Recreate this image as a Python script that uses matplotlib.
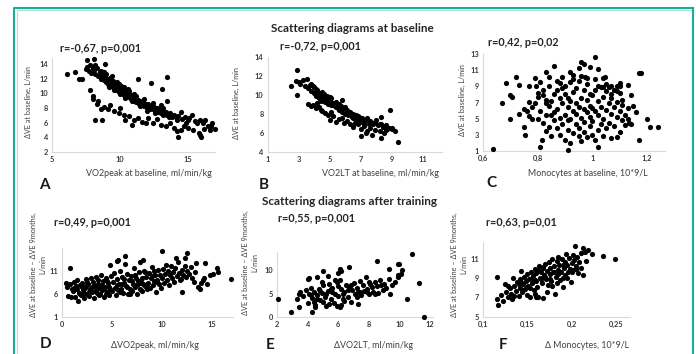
import matplotlib
matplotlib.use("Agg")
import matplotlib.pyplot as plt
from matplotlib.lines import Line2D

plt.rcParams['font.family'] = ['Lato', 'DejaVu Sans']

W, H = 696, 354

# ---------------- data ----------------
headings = ["Scattering diagrams at baseline", "Scattering diagrams after training"]
panel_letters = ["A", "B", "C", "D", "E", "F"]
stats = ["r=-0,67, p=0,001", "r=-0,72, p=0,001", "r=0,42, p=0,02",
         "r=0,49, p=0,001", "r=0,55, p=0,001", "r=0,63, p=0,01"]
xlabels = ["VO2peak at baseline, ml/min/kg", "VO2LT at baseline, ml/min/kg",
           "Monocytes at baseline, 10*9/L", "ΔVO2peak, ml/min/kg",
           "ΔVO2LT, ml/min/kg", "Δ Monocytes, 10*9/L"]
ylabel_base = "ΔVE at baseline, L/min"
ylabel_train = "ΔVE at baseline – ΔVE 9months,\nL/min"

a_ticks_x = [5, 10, 15]; a_ticks_y = [2, 4, 6, 8, 10, 12, 14]
b_ticks_x = [1, 3, 5, 7, 9, 11]; b_ticks_y = [4, 6, 8, 10, 12, 14]
c_ticks_x = [0.6, 0.8, 1.0, 1.2]; c_ticks_y = [1, 3, 5, 7, 9, 11, 13]
c_ticklabels_x = ["0,6", "0,8", "1", "1,2"]
d_ticks_x = [0, 5, 10, 15]; d_ticks_y = [1, 6, 11]
e_ticks_x = [2, 4, 6, 8, 10, 12]; e_ticks_y = [0, 5, 10]
f_ticks_x = [0.1, 0.15, 0.2, 0.25]; f_ticks_y = [5, 7, 9, 11]
f_ticklabels_x = ["0,1", "0,15", "0,2", "0,25"]

# Panel A: VO2peak at baseline vs dVE
a_points = [
 (7.5,13.3),(7.6,13.6),(7.7,13.0),(7.8,13.8),(7.9,12.8),(8.0,13.4),(8.1,13.1),(8.2,12.6),(8.3,13.5),(8.4,12.3),
 (8.5,12.9),(8.6,12.0),(8.7,12.5),(8.8,11.8),(8.9,12.2),(9.0,11.5),(9.0,12.6),(9.1,11.2),(9.2,11.9),(9.3,11.0),
 (9.3,12.1),(9.4,11.5),(9.5,10.8),(9.5,11.7),(9.6,11.1),(9.7,10.5),(9.7,11.4),(9.8,10.9),(9.9,10.2),(9.9,11.2),
 (10.0,10.6),(10.0,9.9),(10.1,11.0),(10.2,10.1),(10.2,10.7),(10.3,9.7),(10.4,10.4),(10.5,9.5),(10.5,10.0),(10.6,9.8),
 (10.7,10.3),(10.8,9.2),(10.8,9.7),(10.9,9.4),(11.0,9.0),(11.0,9.9),(11.1,9.3),(11.2,8.8),(11.3,9.1),(11.4,8.6),
 (11.5,9.0),(11.6,8.4),(11.7,8.8),(11.8,8.2),(11.9,8.6),(12.0,8.0),(12.1,8.5),(12.2,7.9),(12.3,8.3),(12.4,7.8),
 (12.5,8.1),(12.6,7.6),(12.7,8.0),(12.8,7.5),(12.9,7.9),(13.0,7.3),(13.1,7.7),(13.2,8.0),(13.3,7.2),(13.4,7.5),
 (13.5,7.0),(13.7,7.3),(13.8,6.8),(14.0,7.1),(14.1,6.7),(14.3,6.9),(14.5,7.4),(14.6,6.5),(14.8,6.8),(15.0,6.3),
 (15.1,6.6),(15.3,7.1),(15.5,6.2),(15.7,6.0),(15.9,6.4),(16.1,5.9),(16.3,6.4),(16.5,5.6),(16.7,5.5),(16.8,5.9),
 (17.0,5.1),
 (8.6,13.0),(8.8,12.9),(9.0,12.0),(9.2,10.9),(9.4,12.4),(9.6,10.4),(9.8,11.6),(10.1,10.3),(10.3,10.9),(10.4,9.3),
 (10.6,10.6),(10.9,8.9),(11.2,9.6),(11.5,8.3),(11.8,9.2),(12.0,7.6),(12.4,8.7),(12.6,7.3),(13.0,8.4),(13.2,7.0),
 (13.6,6.7),(14.2,6.4),(14.9,6.0),
 (7.8,10.5),(8.0,9.6),(8.0,9.2),(8.3,8.6),(8.4,9.0),(8.6,7.9),(8.8,8.1),(9.1,7.8),(9.3,8.4),(9.6,7.6),
 (9.9,7.3),(10.0,8.0),(10.3,7.1),(10.4,6.4),(10.7,6.9),(10.9,5.7),(11.0,6.3),(11.3,6.6),(11.6,6.1),(11.9,5.9),
 (12.1,6.6),(12.4,6.0),(12.7,6.5),(13.0,5.7),(13.4,5.6),(13.7,6.0),(14.0,5.3),(14.2,4.8),(14.5,5.0),(14.7,5.6),
 (15.0,5.3),(15.4,5.0),(15.8,4.6),(16.2,5.2),(16.6,5.0),
 (6.1,12.6),(6.7,12.9),(7.0,12.0),(7.2,12.0),(7.6,14.5),(8.1,14.6),(8.2,6.3),(8.7,6.3),(11.3,12.0),(12.3,11.4),
 (13.5,12.2),(13.1,10.6),(13.5,8.9),(14.3,4.0),(15.9,4.3),(16.0,4.0),(8.9,14.0),(8.2,13.9),
]

# Panel B: VO2LT at baseline vs dVE
b_points = [
 (3.0,11.4),(3.1,11.2),(3.3,11.6),(3.4,11.0),(3.5,11.7),(3.6,10.7),(3.7,11.1),(3.8,10.4),(3.9,11.0),(4.0,10.2),
 (4.0,10.8),(4.1,9.9),(4.2,10.5),(4.3,9.7),(4.3,10.2),(4.4,10.0),(4.5,9.5),(4.5,10.3),(4.6,9.8),(4.7,9.3),
 (4.8,9.9),(4.9,9.1),(4.9,9.6),(5.0,9.4),(5.1,8.9),(5.1,9.7),(5.2,9.2),(5.3,8.8),(5.4,9.3),(5.5,8.6),
 (5.5,9.0),(5.6,8.4),(5.7,8.8),(5.8,8.2),(5.9,8.6),(6.0,8.0),(6.1,8.4),(6.2,7.9),(6.3,8.2),(6.4,7.7),
 (6.5,8.0),(6.6,7.5),(6.7,7.9),(6.8,7.4),(6.9,7.7),(7.0,7.3),(7.1,7.6),(7.2,7.1),(7.3,7.4),(7.5,7.0),
 (7.6,7.3),(7.8,6.9),(7.9,7.2),(8.1,6.8),(8.2,7.0),(8.4,6.6),(8.6,6.8),(8.8,6.5),(9.0,6.4),(9.2,6.2),
 (3.8,11.2),(4.1,10.6),(4.4,9.4),(4.6,10.1),(4.8,9.5),(5.0,9.8),(5.2,8.9),(5.4,8.7),(5.6,9.1),(5.8,8.5),
 (6.0,8.7),(6.2,8.1),(6.5,7.6),(6.8,7.8),(7.1,7.2),(7.4,7.6),(7.7,7.1),(8.0,7.4),(8.3,6.9),(8.6,6.3),
 (3.6,9.1),(3.8,8.8),(3.9,9.0),(4.1,8.6),(4.3,8.7),(4.5,8.3),(4.7,8.1),(4.9,7.9),(5.0,7.4),(5.2,7.8),
 (5.4,7.2),(5.6,7.5),(5.9,7.1),(6.1,7.3),(6.3,6.9),(6.5,6.6),(6.8,6.9),(7.0,6.4),(7.2,6.7),(7.4,6.2),
 (7.6,6.5),(7.9,6.3),(8.2,6.2),(8.5,6.0),(8.7,6.4),(4.4,8.4),(4.2,9.2),(5.1,8.2),(5.8,7.6),(6.6,7.1),
 (2.5,11.0),(2.9,12.6),(2.9,10.0),(2.8,11.5),(5.8,9.5),(8.3,7.7),(8.9,8.4),(9.4,5.1),(8.3,5.5),(7.0,5.7),
 (7.7,5.8),(9.0,6.5),(7.3,6.0),
]

# Panel C: Monocytes at baseline vs dVE
c_points = [
 (0.635,1.3),(0.67,6.9),(0.685,9.4),(0.70,7.9),(0.705,7.7),(0.70,5.0),(0.72,10.1),(0.73,9.2),(0.73,5.6),(0.75,6.2),
 (0.75,4.0),(0.755,3.0),(0.77,9.0),(0.77,7.1),(0.78,4.9),(0.79,10.0),(0.795,9.0),(0.80,7.7),(0.81,1.5),(0.815,2.3),
 (0.83,10.8),(0.83,7.3),(0.84,10.1),(0.85,5.4),(0.86,11.5),(0.87,8.5),(0.88,9.4),(0.89,10.2),(0.91,1.1),(0.92,10.8),
 (0.93,10.4),(0.96,12.0),(0.97,11.8),(0.975,10.2),(0.99,11.4),(1.01,12.6),(1.02,11.2),(1.04,10.0),(1.045,10.1),(1.02,1.5),
 (1.07,9.0),(1.09,9.0),(1.10,9.4),(1.13,9.2),(1.14,7.9),(1.17,10.6),(1.18,10.6),(1.16,5.8),(1.20,5.0),(1.21,4.0),
 (1.24,4.0),(1.17,2.4),(1.09,2.7),(1.13,5.0),
 (0.80,5.0),(0.81,6.0),(0.82,4.5),(0.82,7.9),(0.83,5.4),(0.83,3.5),(0.84,6.6),(0.84,4.0),(0.85,7.2),(0.85,2.8),
 (0.86,5.8),(0.86,4.8),(0.87,3.8),(0.87,6.2),(0.88,7.5),(0.88,5.1),(0.88,3.0),(0.89,4.3),(0.89,6.9),(0.90,5.5),
 (0.90,2.4),(0.90,8.0),(0.91,3.6),(0.91,6.4),(0.91,4.8),(0.92,7.2),(0.92,5.0),(0.92,2.0),(0.93,3.2),(0.93,6.0),
 (0.93,8.3),(0.94,4.4),(0.94,5.6),(0.94,7.0),(0.95,2.8),(0.95,6.5),(0.95,3.9),(0.96,5.1),(0.96,7.6),(0.96,2.2),
 (0.97,4.6),(0.97,6.2),(0.97,3.3),(0.98,5.8),(0.98,7.3),(0.98,2.7),(0.99,4.1),(0.99,6.6),(0.99,5.2),(1.00,3.0),
 (1.00,7.9),(1.00,4.7),(1.01,6.0),(1.01,2.3),(1.01,8.6),(1.02,5.5),(1.02,3.6),(1.02,7.2),(1.03,4.3),(1.03,8.9),
 (1.03,6.4),(1.04,2.9),(1.04,5.0),(1.04,7.7),(1.05,8.4),(1.05,6.1),(1.05,3.8),(1.06,4.5),(1.06,7.0),(1.06,8.9),
 (1.07,5.6),(1.07,2.6),(1.07,7.5),(1.08,6.4),(1.08,4.1),(1.08,8.6),(1.09,5.2),(1.09,7.1),(1.10,6.0),(1.10,3.4),
 (1.10,8.2),(1.11,4.8),(1.11,6.7),(1.12,5.5),(1.12,4.2),(1.13,6.3),(1.135,4.5),(1.14,4.3),(1.15,6.6),
 (0.76,6.0),(0.77,5.3),(0.78,6.5),(0.79,7.0),(0.80,8.2),(0.81,9.5),(0.82,8.5),(0.83,6.9),(0.84,9.0),(0.86,8.0),
 (0.87,9.7),(0.89,8.8),(0.90,9.0),(0.91,7.5),(0.92,9.5),(0.94,8.8),(0.95,9.6),(0.97,8.5),(0.98,9.3),(0.99,8.0),
 (1.00,6.3),(1.01,9.9),(1.02,9.0),(1.04,8.9),(1.05,9.3),(1.07,8.0),(1.09,8.4),(1.10,9.0),(1.11,7.3),
 (0.93,9.9),(0.95,11.3),(0.96,10.3),(0.98,10.0),
]

# Panel D: dVO2peak vs dVE difference
d_points = [
 (0.5,7.4),(0.6,5.5),(0.8,8.0),(0.9,5.3),(1.0,7.0),(1.1,6.5),(1.2,8.6),(1.3,5.2),(1.4,7.6),(1.5,9.0),
 (1.6,4.5),(1.7,6.2),(1.8,7.9),(1.9,5.6),(2.0,8.4),(2.1,6.8),(2.2,5.0),(2.3,7.3),(2.4,9.1),(2.5,6.0),
 (2.6,8.0),(2.7,5.4),(2.8,7.0),(2.9,9.4),(3.0,6.4),(3.1,8.5),(3.2,5.1),(3.3,7.7),(3.4,9.6),(3.5,6.1),
 (3.6,8.1),(3.7,5.6),(3.8,7.2),(3.9,10.0),(4.0,6.7),(4.1,8.8),(4.2,5.3),(4.3,7.5),(4.4,9.3),(4.5,6.3),
 (4.6,8.3),(4.7,5.8),(4.8,7.0),(4.9,9.8),(5.0,6.6),
 (1.5,6.9),(2.0,7.4),(2.5,8.6),(3.0,7.5),(3.5,7.0),(4.0,7.8),(4.5,8.8),(2.2,6.2),(3.3,6.6),(4.2,6.9),
 (1.8,5.9),(2.7,6.4),(3.8,6.0),(4.7,7.5),(1.2,7.2),(2.4,7.7),(3.6,9.0),(4.4,5.9),
 (5.1,8.5),(5.2,10.5),(5.3,7.3),(5.4,5.8),(5.5,9.2),(5.6,6.7),(5.7,8.0),(5.8,11.0),(5.9,7.0),(6.0,9.6),
 (6.1,6.2),(6.2,8.4),(6.3,12.5),(6.4,7.6),(6.5,10.3),(6.6,5.9),(6.7,8.9),(6.8,7.1),(6.9,9.9),(7.0,6.5),
 (7.1,8.2),(7.2,11.5),(7.3,7.4),(7.4,9.4),(7.5,6.0),(7.6,8.7),(7.7,10.6),(7.8,7.0),(7.9,9.0),(8.0,6.6),
 (8.1,8.0),(8.2,11.0),(8.3,7.6),(8.4,9.7),(8.5,6.9),(8.6,8.4),(8.7,10.4),(8.8,7.3),(8.9,9.3),(9.0,11.7),
 (9.1,7.8),(9.2,8.8),(9.3,10.1),(9.4,6.4),(9.5,9.0),(9.6,11.2),(9.7,8.0),(9.8,10.0),(9.9,7.2),(10.0,9.5),
 (5.5,7.8),(6.0,8.0),(6.5,7.5),(7.0,8.8),(7.5,7.9),(8.0,9.3),(8.5,8.1),(9.0,9.9),(9.5,8.5),(6.2,9.1),
 (7.3,10.0),(8.3,10.6),(9.2,11.0),(5.8,6.3),(6.8,6.0),(7.8,8.3),
 (10.1,11.3),(10.2,8.4),(10.3,10.3),(10.4,12.3),(10.5,9.0),(10.6,11.0),(10.7,7.8),(10.8,10.0),(10.9,12.0),(11.0,9.5),
 (11.1,10.8),(11.2,8.6),(11.3,11.5),(11.5,9.9),(11.6,12.8),(11.7,10.5),(11.9,9.2),(12.0,11.2),(12.1,10.0),(12.3,12.0),
 (12.4,9.6),(12.5,11.0),(12.7,10.3),(12.9,11.8),(13.0,9.4),(13.2,8.5),(13.3,10.8),(13.6,7.5),(13.9,8.3),(14.2,9.5),
 (14.5,8.0),
 (10.0,15.3),(12.5,14.8),(12.3,13.7),(11.4,13.7),(5.5,13.1),(5.6,13.3),(6.3,14.2),(4.8,12.2),(7.8,12.9),(8.1,13.3),
 (13.4,12.7),(14.3,12.6),(15.5,11.5),(15.6,10.8),(15.1,10.2),(14.8,10.0),(16.9,9.1),(0.8,11.5),(0.37,8.3),(12.0,6.4),
 (11.8,9.0),(13.8,7.0),(14.1,9.0),
]

# Panel E: dVO2LT vs dVE difference
e_points = [
 (3.5,5.3),(3.7,4.6),(3.9,5.8),(4.0,3.0),(4.1,5.0),(4.2,6.3),(4.3,4.2),(4.4,5.5),(4.5,2.6),(4.6,4.8),
 (4.7,6.0),(4.8,3.6),(4.9,5.2),(5.0,6.8),(5.1,4.4),(5.2,2.5),(5.3,5.7),(5.4,7.2),(5.5,4.0),(5.6,6.3),
 (5.7,3.1),(5.8,5.0),(5.9,7.5),(6.0,4.6),(6.1,2.2),(6.2,6.0),(6.3,3.8),(6.4,5.4),(6.5,7.0),(6.6,4.4),
 (6.7,6.5),(6.8,3.2),(6.9,5.8),(7.0,7.3),(7.1,4.9),(7.2,6.2),(7.3,5.3),(7.4,7.8),(7.5,4.8),(7.6,6.8),
 (7.7,5.6),(7.8,8.5),(7.9,6.1),(8.0,5.0),(8.1,7.1),(8.2,6.4),(8.3,5.5),(8.4,7.6),(8.5,6.6),(8.6,5.1),
 (8.7,8.0),(8.8,6.8),(8.9,5.8),(9.0,7.2),(9.1,6.3),(9.3,8.1),(9.5,6.9),(9.7,7.6),(9.9,8.6),(10.1,9.2),
 (4.2,4.7),(4.8,5.7),(5.2,4.9),(5.6,5.3),(6.0,6.7),(6.3,4.9),(6.6,5.8),(5.0,3.3),(5.4,2.9),(5.9,2.5),
 (6.2,2.7),(6.4,3.5),(4.6,3.9),(5.5,6.0),(6.1,7.9),(5.8,8.0),(5.3,8.8),(4.9,7.6),(6.8,7.0),(7.2,4.3),
 (7.9,5.4),(8.4,5.0),(4.4,3.2),
 (4.0,8.2),(4.1,8.3),(4.6,8.6),(5.0,9.9),(6.0,9.5),(6.1,10.4),(6.2,9.9),(6.7,10.8),(7.4,5.4),(7.3,2.8),
 (8.0,7.5),(8.5,12.0),(9.4,5.0),(9.3,10.4),(9.9,11.3),(10.0,11.4),(10.2,10.1),(9.9,9.0),(10.5,4.0),(10.8,13.5),
 (11.3,7.3),(11.6,0.0),(2.07,4.0),(2.9,1.1),(3.3,3.9),(3.4,4.9),(3.4,2.3),(4.3,1.2),(4.5,2.1),
]

# Panel F: d monocytes vs dVE difference
f_points = [
 (0.115,6.8),(0.117,6.2),(0.115,9.1),(0.12,7.3),(0.122,6.6),(0.125,8.4),(0.126,7.6),(0.128,7.0),(0.13,8.0),(0.131,7.4),
 (0.133,6.8),(0.134,9.0),(0.135,8.2),(0.137,7.7),(0.138,8.6),(0.14,7.2),(0.141,8.0),(0.142,8.9),(0.143,9.8),(0.144,7.6),
 (0.145,8.4),(0.146,9.1),(0.147,7.9),(0.148,8.7),(0.149,7.3),(0.15,9.4),(0.151,8.2),(0.152,8.9),(0.153,7.1),(0.154,9.7),
 (0.155,8.5),(0.156,9.2),(0.157,7.8),(0.158,10.0),(0.159,8.8),(0.16,9.5),(0.161,8.1),(0.162,7.0),(0.163,10.3),(0.164,9.0),
 (0.165,9.7),(0.166,8.5),(0.167,10.1),(0.168,6.9),(0.169,9.3),(0.17,10.5),(0.171,8.9),(0.172,9.8),(0.173,8.3),(0.174,10.7),
 (0.175,9.4),(0.176,10.1),(0.177,8.7),(0.178,11.0),(0.179,9.6),(0.18,10.3),(0.181,7.4),(0.182,9.1),(0.183,10.8),(0.184,9.9),
 (0.185,11.2),(0.186,10.4),(0.187,8.8),(0.188,9.7),(0.189,11.0),(0.19,8.1),(0.191,10.1),(0.192,10.7),(0.193,9.3),(0.194,11.5),
 (0.195,10.4),(0.196,9.7),(0.197,11.1),(0.198,10.0),(0.199,8.6),(0.2,10.6),(0.201,11.4),(0.202,9.9),(0.203,10.9),(0.204,12.4),
 (0.205,10.3),(0.206,11.2),(0.207,9.5),(0.208,10.7),(0.21,11.6),(0.211,10.1),(0.213,12.1),(0.213,9.3),(0.215,11.7),(0.216,10.8),
 (0.218,11.9),(0.223,11.5),(0.236,11.3),(0.249,11.0),
 (0.14,8.4),(0.145,7.8),(0.15,8.1),(0.155,9.0),(0.16,8.7),(0.165,8.9),(0.17,9.1),(0.175,8.9),(0.18,9.7),(0.185,9.4),
 (0.19,10.4),(0.195,9.0),(0.2,9.6),(0.205,10.0),(0.158,7.4),(0.162,9.9),(0.168,10.2),(0.172,7.6),(0.178,8.2),(0.183,8.5),
 (0.19,9.0),(0.135,7.2),(0.128,8.2),(0.143,8.6),(0.153,8.0),(0.16,7.0),
]

# ---------------- layout helpers ----------------
fig = plt.figure(figsize=(W / 100, H / 100), dpi=100)

def px_axes(x0, ytop, x1, ybot):
    return fig.add_axes([x0 / W, 1 - ybot / H, (x1 - x0) / W, (ybot - ytop) / H])

def ftext(x, y, s, **kw):
    fig.text(x / W, 1 - y / H, s, **kw)

TICKC = '#3a3a3a'
LABC = '#404040'

def style(ax, xlim, ylim, xt, yt, xtl=None):
    ax.set_xlim(*xlim)
    ax.set_ylim(*ylim)
    ax.set_xticks(xt)
    ax.set_yticks(yt)
    if xtl is not None:
        ax.set_xticklabels(xtl)
    for s in ['top', 'right']:
        ax.spines[s].set_visible(False)
    for s in ['bottom', 'left']:
        ax.spines[s].set_color('#d9d9d9')
        ax.spines[s].set_linewidth(0.8)
    ax.tick_params(length=0, labelsize=5.3, colors=TICKC, pad=3)
    for lab in ax.get_xticklabels() + ax.get_yticklabels():
        lab.set_fontweight('bold')
    ax.patch.set_alpha(0)

def scatter(ax, pts):
    xs = [p[0] for p in pts]
    ys = [p[1] for p in pts]
    ax.scatter(xs, ys, s=14, c='black', linewidths=0, clip_on=False, zorder=3)

# Panel A
axA = px_axes(52, 58, 215, 152)
scatter(axA, a_points)
style(axA, (5, 17), (2, 14.8), a_ticks_x, a_ticks_y)

# Panel B
axB = px_axes(267.7, 57, 441.7, 152)
scatter(axB, b_points)
style(axB, (1, 12.2), (4, 14), b_ticks_x, b_ticks_y)

# Panel C
axC = px_axes(483, 54, 665, 151)
scatter(axC, c_points)
style(axC, (0.6, 1.266), (1, 13), c_ticks_x, c_ticks_y, c_ticklabels_x)

# Panel D
axD = px_axes(62, 248, 233, 316.7)
scatter(axD, d_points)
style(axD, (0, 17.1), (1, 15.9), d_ticks_x, d_ticks_y)

# Panel E
axE = px_axes(277.3, 251.7, 433, 317.3)
scatter(axE, e_points)
style(axE, (2, 12.2), (0, 14), e_ticks_x, e_ticks_y)

# Panel F
axF = px_axes(483.3, 241.7, 630, 316.7)
scatter(axF, f_points)
style(axF, (0.1, 0.266), (5, 12.8), f_ticks_x, f_ticks_y, f_ticklabels_x)

# ---------------- texts ----------------
HEAD = dict(fontsize=8.5, fontweight='bold', color='#262626', ha='center', va='center')
ftext(352, 28, headings[0], **HEAD)
ftext(350, 201, headings[1], **HEAD)

ST = dict(fontsize=7.8, fontweight='bold', color='#262626', ha='center', va='center')
for (x, y), s in zip([(100, 48), (320, 47), (523, 43), (92, 223), (316, 218), (521, 223)], stats):
    ftext(x, y, s, **ST)

XL = dict(fontsize=6.4, color=LABC, ha='center', va='center')
for (x, y), s in zip([(149, 174), (380, 174), (588, 173), (155, 345), (373, 345), (587, 345)], xlabels):
    ftext(x, y, s, **XL)

YL = dict(fontsize=5.2, color=LABC, ha='center', va='center', rotation=90)
ftext(28, 102, ylabel_base, **YL)
ftext(236, 103, ylabel_base, **YL)
ftext(462, 100, ylabel_base, **YL)
YL2 = dict(fontsize=5.3, color=LABC, ha='center', va='center', rotation=90, linespacing=1.3)
ftext(38, 265, ylabel_train, **YL2)
ftext(250, 263, ylabel_train, **YL2)
ftext(459, 265, ylabel_train, **YL2)

LET = dict(fontsize=11, fontweight='bold', color='#1a1a1a', ha='center', va='center')
for (x, y), s in zip([(44, 185), (264, 185), (491, 183), (46, 344), (270, 345), (503, 345)], panel_letters):
    ftext(x, y, s, **LET)

# ---------------- teal frame ----------------
def fline(xs, ys, **kw):
    fig.add_artist(Line2D([x / W for x in xs], [1 - y / H for y in ys], **kw))

fline([16.5, 16.5, 690.5], [H + 2, 9.5, 9.5], color='#a8e3d9', lw=0.8)
fline([14, 14, 693], [H + 2, 7.5, 7.5], color='#19ae96', lw=1.5)
fline([693, 693], [7.5, H + 2], color='#19ae96', lw=1.5)

fig.savefig('out.png', dpi=100)
